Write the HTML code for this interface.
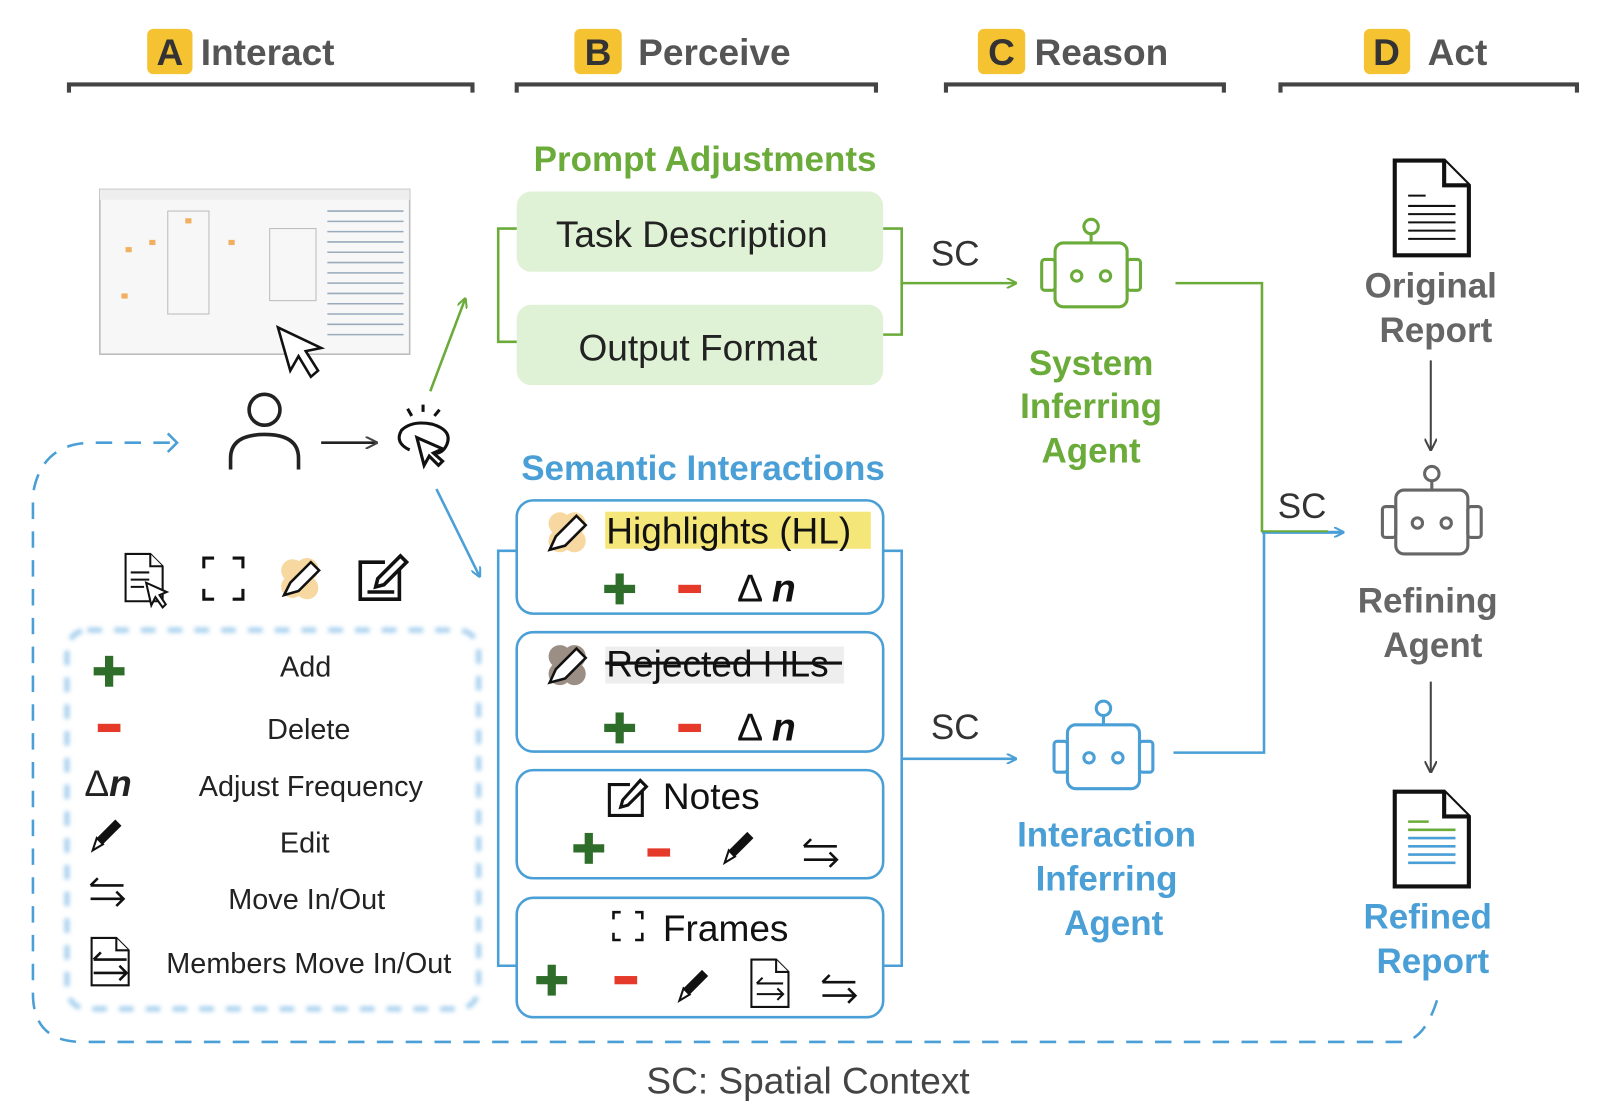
<!DOCTYPE html>
<html><head><meta charset="utf-8"><style>
html,body{margin:0;padding:0;background:#fff;width:1614px;height:1114px;overflow:hidden}
svg text{font-family:"Liberation Sans",sans-serif}
</style></head><body>
<svg width="1614" height="1114" viewBox="0 0 1568 1082" preserveAspectRatio="none" xmlns="http://www.w3.org/2000/svg">
<defs>
<marker id="ag" markerWidth="10" markerHeight="10" refX="9" refY="5" orient="auto" markerUnits="userSpaceOnUse"><path d="M0,0 L10,5 L0,10" fill="none" stroke="#6aab3a" stroke-width="2"/></marker>
<marker id="ab" markerWidth="10" markerHeight="10" refX="9" refY="5" orient="auto" markerUnits="userSpaceOnUse"><path d="M0,0 L10,5 L0,10" fill="none" stroke="#4a9fd6" stroke-width="2"/></marker>
<marker id="ak" markerWidth="12" markerHeight="12" refX="11" refY="6" orient="auto" markerUnits="userSpaceOnUse"><path d="M0,0 L12,6 L0,12" fill="none" stroke="#444" stroke-width="2"/></marker>
<g id="plus"><rect x="-15" y="-4" width="30" height="8" fill="#2f6e2a"/><rect x="-4" y="-15" width="8" height="30" fill="#2f6e2a"/></g>
<g id="minus"><rect x="-11" y="-4" width="22" height="8" fill="#e53a2a"/></g>
<g id="pencil"><path d="M-14,16 L-10,4 L8,-14 L14,-8 L-4,10 Z" fill="#111"/><path d="M-14,16 L-10,4 L-4,10 Z" fill="#fff" stroke="#111" stroke-width="2"/></g>
<g id="swap" fill="none" stroke="#111" stroke-width="2.5"><path d="M16,-6 H-16 M-9,-13 L-16,-6 M-16,-6 L-9,-6"/><path d="M-16,7 H16 M9,14 L16,7 L9,0"/></g>
<g id="doc" fill="#fff" stroke="#111" stroke-width="2"><path d="M-18,-22 H6 L18,-10 V24 H-18 Z"/><path d="M6,-22 V-10 H18"/></g>
<g id="robot" fill="none" stroke-width="3"><circle cx="0" cy="-42" r="7"/><line x1="0" y1="-35" x2="0" y2="-26"/><rect x="-35" y="-26" width="70" height="62" rx="8"/><rect x="-48" y="-10" width="13" height="30" rx="3"/><rect x="35" y="-10" width="13" height="30" rx="3"/><circle cx="-14" cy="6" r="5"/><circle cx="14" cy="6" r="5"/></g>
<filter id="blur"><feGaussianBlur stdDeviation="2"/></filter>
</defs>

<g font-size="36" font-weight="bold" fill="#555">
<rect x="143" y="28" width="44" height="44" rx="6" fill="#f5c232"/><text x="165" y="63" text-anchor="middle" fill="#333">A</text><text x="195" y="63">Interact</text>
<rect x="558" y="28" width="46" height="44" rx="6" fill="#f5c232"/><text x="581" y="63" text-anchor="middle" fill="#333">B</text><text x="620" y="63">Perceive</text>
<rect x="950" y="28" width="46" height="44" rx="6" fill="#f5c232"/><text x="973" y="63" text-anchor="middle" fill="#333">C</text><text x="1005" y="63">Reason</text>
<rect x="1325" y="28" width="45" height="44" rx="6" fill="#f5c232"/><text x="1347" y="63" text-anchor="middle" fill="#333">D</text><text x="1387" y="63">Act</text>
</g>
<g fill="none" stroke="#444" stroke-width="4">
<path d="M67,90 V82 H459 V90"/><path d="M502,90 V82 H851 V90"/><path d="M919,90 V82 H1189 V90"/><path d="M1244,90 V82 H1532 V90"/>
</g>

<rect x="97" y="184" width="301" height="160" fill="#f7f7f7" stroke="#bbb" stroke-width="1.5"/>
<rect x="97" y="184" width="301" height="10" fill="#eee"/>
<g fill="#f0b060"><rect x="122" y="240" width="6" height="5"/><rect x="145" y="233" width="6" height="5"/><rect x="180" y="212" width="6" height="5"/><rect x="222" y="233" width="6" height="5"/><rect x="118" y="285" width="6" height="5"/></g>
<g fill="none" stroke="#bbb"><rect x="163" y="205" width="40" height="100"/><rect x="262" y="222" width="45" height="70"/></g>
<g stroke="#9ab" stroke-width="1.5"><path d="M318,205 H392 M318,215 H392 M318,225 H392 M318,235 H392 M318,245 H392 M318,255 H392 M318,265 H392 M318,275 H392 M318,285 H392 M318,295 H392 M318,305 H392 M318,315 H392 M318,325 H392"/></g>
<path d="M270,318 L282,360 L290,346 L302,366 L309,360 L297,341 L312,338 Z" fill="#fff" stroke="#111" stroke-width="2.5"/>

<g fill="none" stroke="#222" stroke-width="3.5"><circle cx="257" cy="398" r="15"/><path d="M224,456 V445 Q224,422 257,422 Q290,422 290,445 V456"/></g>
<line x1="312" y1="430" x2="366" y2="430" stroke="#222" stroke-width="2.5" marker-end="url(#ak)"/>
<g fill="none" stroke="#111" stroke-width="3"><path d="M398,437 Q383,430 390,418 Q400,408 420,412 Q440,418 434,432 Q430,440 424,440"/><path d="M405,425 L412,452 L417,443 L426,452 L430,448 L421,440 L430,436 Z" fill="#fff"/><path d="M400,404 L396,397 M411,400 V393 M422,404 L427,398"/></g>

<line x1="418" y1="380" x2="452" y2="290" stroke="#6aab3a" stroke-width="2.5" marker-end="url(#ag)"/>
<line x1="424" y1="475" x2="466" y2="560" stroke="#4a9fd6" stroke-width="2.5" marker-end="url(#ab)"/>

<use href="#doc" x="140" y="560"/>
<g stroke="#111" stroke-width="2"><path d="M127,556 H145 M127,563 H145 M127,570 H140"/></g>
<path d="M142,566 L147,588 L151,580 L158,590 L161,587 L155,578 L162,575 Z" fill="#fff" stroke="#111" stroke-width="2"/>
<g fill="none" stroke="#111" stroke-width="3"><path d="M198,552 V542 H208 M226,542 H236 V552 M236,572 V582 H226 M208,582 H198 V572"/></g>
<rect x="280" y="540" width="22" height="44" rx="11" fill="#f6d8a0" transform="rotate(-40 292 562)"/>
<rect x="280" y="540" width="22" height="44" rx="11" fill="#f6d8a0" transform="rotate(40 292 562)"/>
<path d="M276,578 L282,566 L302,546 L310,554 L290,574 Z" fill="#fff" stroke="#111" stroke-width="2.5"/>
<g fill="none" stroke="#111" stroke-width="3.5"><path d="M388,552 V582 H350 V546 H374"/><path d="M365,570 L367,562 L389,540 L395,546 L373,568 Z"/><line x1="357" y1="575" x2="383" y2="575"/></g>

<rect x="65" y="612" width="400" height="368" rx="20" fill="none" stroke="#a8d0ee" stroke-width="5" stroke-dasharray="14 12" filter="url(#blur)"/>
<g font-size="28" fill="#222" text-anchor="middle">
<use href="#plus" x="106" y="652"/><text x="297" y="657">Add</text>
<use href="#minus" x="106" y="707"/><text x="300" y="718">Delete</text>
<text x="82" y="773" text-anchor="start" font-size="36">Δ<tspan font-weight="bold" font-style="italic">n</tspan></text><text x="302" y="773">Adjust Frequency</text>
<use href="#pencil" x="104" y="810"/><text x="296" y="828">Edit</text>
<use href="#swap" x="104" y="866"/><text x="298" y="883">Move In/Out</text>
<use href="#doc" x="107" y="933"/><use href="#swap" x="107" y="938"/><text x="300" y="945">Members Move In/Out</text>
</g>

<path d="M165,430 H90 Q40,430 32,480 V965 Q32,1012 80,1012 H1360 Q1385,1012 1398,965" fill="none" stroke="#4a9fd6" stroke-width="2.5" stroke-dasharray="16 12"/>
<path d="M163,421 L172,430 L163,439" fill="none" stroke="#4a9fd6" stroke-width="2.5"/>

<text x="685" y="166" font-size="34" font-weight="bold" fill="#6aab3a" text-anchor="middle">Prompt Adjustments</text>
<rect x="502" y="186" width="356" height="78" rx="14" fill="#e0f2d6"/>
<rect x="502" y="296" width="356" height="78" rx="14" fill="#e0f2d6"/>
<g font-size="36" fill="#222" text-anchor="middle"><text x="672" y="240">Task Description</text><text x="678" y="350">Output Format</text></g>
<g fill="none" stroke="#6aab3a" stroke-width="2.5"><path d="M502,222 H484 V332 H502"/><path d="M858,222 H876 V325 H858"/></g>
<line x1="876" y1="275" x2="987" y2="275" stroke="#6aab3a" stroke-width="2.5" marker-end="url(#ag)"/>
<text x="928" y="258" font-size="34" fill="#333" text-anchor="middle">SC</text>
<use href="#robot" x="1060" y="262" stroke="#6aab3a"/>
<g font-size="34" font-weight="bold" fill="#6aab3a" text-anchor="middle"><text x="1060" y="364">System</text><text x="1060" y="406">Inferring</text><text x="1060" y="449">Agent</text></g>
<path d="M1142,275 H1226 V517" fill="none" stroke="#6aab3a" stroke-width="2.5"/>
<line x1="1226" y1="517" x2="1305" y2="517" stroke="#4a9fd6" stroke-width="3" marker-end="url(#ab)"/>
<line x1="1226" y1="516" x2="1290" y2="516" stroke="#6aab3a" stroke-width="2"/>
<path d="M1140,731 H1228 V517" fill="none" stroke="#4a9fd6" stroke-width="2.5"/>
<text x="1265" y="503" font-size="34" fill="#333" text-anchor="middle">SC</text>

<use href="#doc" x="1391" y="200" transform="translate(1391,200) scale(2) translate(-1391,-200)"/>
<g stroke="#111" stroke-width="2"><path d="M1368,190 H1385 M1368,200 H1414 M1368,208 H1414 M1368,216 H1414 M1368,224 H1414 M1368,232 H1414"/></g>
<g font-size="34" font-weight="bold" fill="#666" text-anchor="middle"><text x="1390" y="289">Original</text><text x="1395" y="332">Report</text><text x="1387" y="595">Refining</text><text x="1392" y="638">Agent</text></g>
<line x1="1390" y1="350" x2="1390" y2="437" stroke="#444" stroke-width="2" marker-end="url(#ak)"/>
<use href="#robot" x="1391" y="502" stroke="#666"/>
<line x1="1390" y1="662" x2="1390" y2="750" stroke="#444" stroke-width="2" marker-end="url(#ak)"/>
<use href="#doc" x="1391" y="813" transform="translate(1391,813) scale(2) translate(-1391,-813)"/>
<g stroke-width="2.5"><path d="M1368,798 H1388 M1368,806 H1414" stroke="#6aab3a"/><path d="M1368,814 H1414 M1368,822 H1414 M1368,830 H1414 M1368,838 H1414" stroke="#4a9fd6"/></g>
<g font-size="34" font-weight="bold" fill="#4a9fd6" text-anchor="middle"><text x="1387" y="902">Refined</text><text x="1392" y="945">Report</text></g>

<text x="683" y="466" font-size="34" font-weight="bold" fill="#4a9fd6" text-anchor="middle">Semantic Interactions</text>
<g fill="#fff" stroke="#4a9fd6" stroke-width="2.5">
<rect x="502" y="486" width="356" height="110" rx="16"/><rect x="502" y="614" width="356" height="116" rx="16"/>
<rect x="502" y="748" width="356" height="105" rx="16"/><rect x="502" y="872" width="356" height="116" rx="16"/></g>
<g fill="none" stroke="#4a9fd6" stroke-width="2.5"><path d="M502,535 H484 V938 H502"/><path d="M858,535 H876 V938 H858"/></g>
<line x1="876" y1="737" x2="987" y2="737" stroke="#4a9fd6" stroke-width="2.5" marker-end="url(#ab)"/>
<text x="928" y="718" font-size="34" fill="#333" text-anchor="middle">SC</text>
<use href="#robot" x="1072" y="730" stroke="#4a9fd6"/>
<g font-size="34" font-weight="bold" fill="#4a9fd6" text-anchor="middle"><text x="1075" y="822">Interaction</text><text x="1075" y="865">Inferring</text><text x="1082" y="908">Agent</text></g>

<rect x="588" y="497" width="258" height="36" fill="#f5e67a"/>
<rect x="540" y="495" width="22" height="44" rx="11" fill="#f6d8a0" transform="rotate(-40 551 517)"/>
<rect x="540" y="495" width="22" height="44" rx="11" fill="#f6d8a0" transform="rotate(40 551 517)"/>
<path d="M534,534 L540,521 L560,501 L569,510 L549,530 Z" fill="#fff" stroke="#111" stroke-width="2.5"/>
<text x="589" y="528" font-size="36" fill="#111">Highlights (HL)</text>
<use href="#plus" x="602" y="572"/><use href="#minus" x="670" y="572"/>
<text x="716" y="584" font-size="38" fill="#111">Δ <tspan font-weight="bold" font-style="italic">n</tspan></text>

<rect x="588" y="628" width="232" height="36" fill="#eee"/>
<text x="589" y="657" font-size="36" fill="#111">Rejected HLs</text>
<line x1="588" y1="644" x2="818" y2="644" stroke="#111" stroke-width="3"/>
<rect x="540" y="624" width="22" height="44" rx="11" fill="#9b8e84" transform="rotate(-40 551 646)"/>
<rect x="540" y="624" width="22" height="44" rx="11" fill="#9b8e84" transform="rotate(40 551 646)"/>
<path d="M534,663 L540,650 L560,630 L569,639 L549,659 Z" fill="#fff" stroke="#111" stroke-width="2.5"/>
<use href="#plus" x="602" y="707"/><use href="#minus" x="670" y="707"/>
<text x="716" y="719" font-size="38" fill="#111">Δ <tspan font-weight="bold" font-style="italic">n</tspan></text>

<g fill="none" stroke="#111" stroke-width="3"><path d="M624,768 V792 H592 V762 H612"/><path d="M603,784 L605,777 L622,758 L628,764 L610,782 Z"/></g>
<text x="644" y="786" font-size="36" fill="#111">Notes</text>
<use href="#plus" x="572" y="824"/><use href="#minus" x="640" y="828"/><use href="#pencil" x="718" y="822"/><use href="#swap" x="797" y="828"/>

<g fill="none" stroke="#111" stroke-width="2.5"><path d="M596,893 V886 H603 M617,886 H624 V893 M624,906 V913 H617 M603,913 H596 V906"/></g>
<text x="644" y="914" font-size="36" fill="#111">Frames</text>
<use href="#plus" x="536" y="952"/><use href="#minus" x="608" y="952"/><use href="#pencil" x="674" y="956"/>
<use href="#doc" x="748" y="954"/><use href="#swap" x="748" y="960" transform="translate(748,960) scale(0.8) translate(-748,-960)"/><use href="#swap" x="815" y="960"/>

<text x="785" y="1062" font-size="36" fill="#444" text-anchor="middle">SC: Spatial Context</text>
</svg>
</body></html>
